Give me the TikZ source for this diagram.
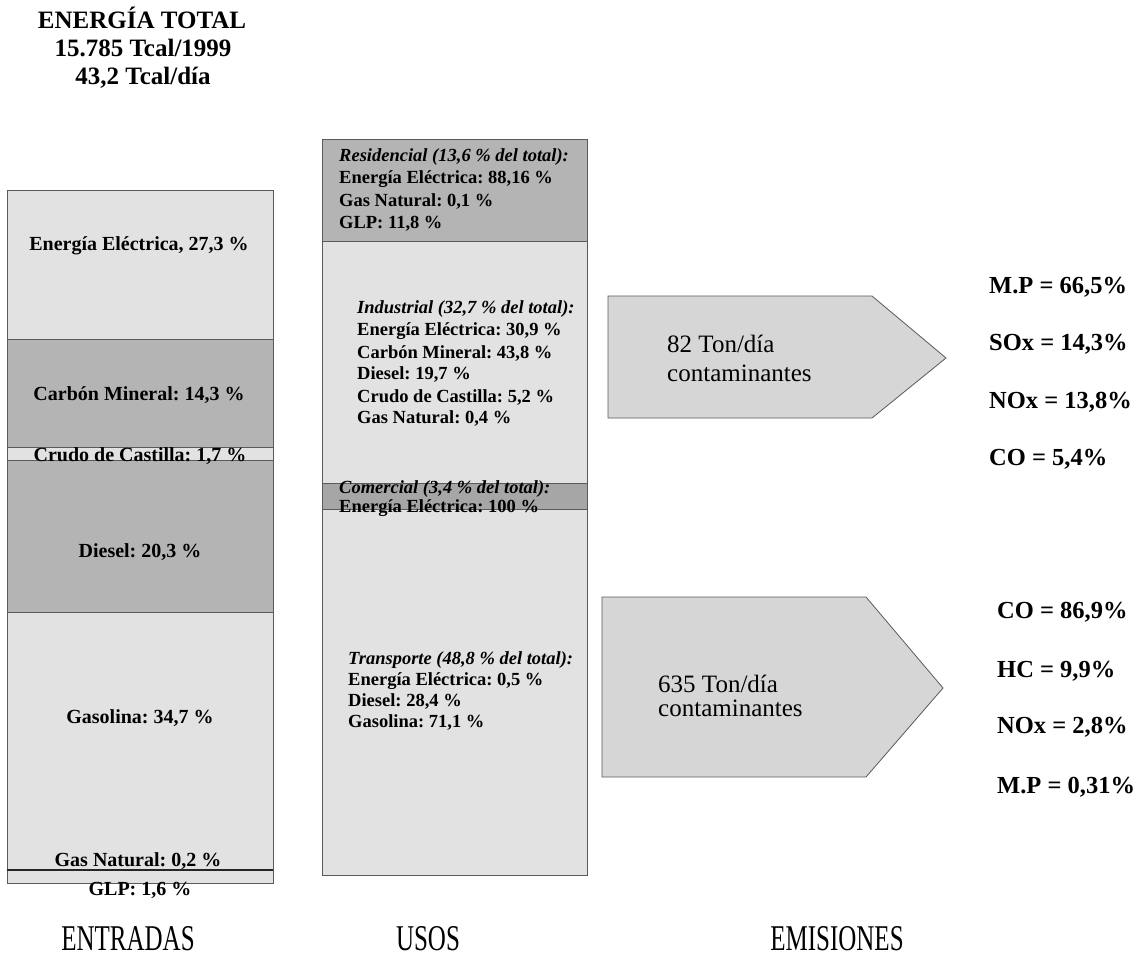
\documentclass[tikz,border=0pt]{standalone}
\usepackage{fontspec}
\setmainfont{Liberation Serif}
\definecolor{lightfill}{HTML}{E2E2E2}
\definecolor{darkfill}{HTML}{B4B4B4}
\definecolor{darkerfill}{HTML}{A6A6A6}
\definecolor{arrowfill}{HTML}{D6D6D6}
\definecolor{edge}{HTML}{5A5A5A}
\tikzset{
  band/.style={draw=edge, line width=0.8pt},
  lbl/.style={font=\bfseries\fontsize{20}{24}\selectfont, anchor=base, inner sep=0pt},
  mid/.style={font=\bfseries\fontsize{18.5}{22}\selectfont, anchor=base west, inner sep=0pt},
  midh/.style={font=\bfseries\itshape\fontsize{18.5}{22}\selectfont, anchor=base west, inner sep=0pt},
  ttl/.style={font=\bfseries\fontsize{25}{28}\selectfont, anchor=base, inner sep=0pt},
  emis/.style={font=\bfseries\fontsize{24.5}{28}\selectfont, anchor=base west, inner sep=0pt},
  arrtxt/.style={font=\fontsize{25}{28}\selectfont, anchor=base west, inner sep=0pt},
  foot/.style={font=\fontsize{25}{28}\selectfont, anchor=base, inner sep=0pt, yscale=1.45},
}
\begin{document}
\frenchspacing
\begin{tikzpicture}[x=1pt,y=-1pt]
\useasboundingbox (0,0) rectangle (1148,963);
% title
\node[ttl] (t1) at (142,29) {ENERGÍA TOTAL};
\node[ttl] (t2) at (143,57) {15.785 Tcal/1999};
\node[ttl] (t3) at (143,85) {43,2 Tcal/día};
% left column
\path[band, fill=lightfill] (7,190) rectangle (273,339);
\path[band, fill=darkfill] (7,339) rectangle (273,447);
\path[band, fill=lightfill] (7,447) rectangle (273,460);
\path[band, fill=darkfill] (7,460) rectangle (273,612);
\path[band, fill=lightfill] (7,612) rectangle (273,870);
\path[band, fill=lightfill] (7,870) rectangle (273,883);
\draw[line width=2.6pt, black!85] (7,870) -- (273,870);
\node[lbl] (ee) at (139,250) {Energía Eléctrica, 27,3 \%};
\node[lbl] (cm) at (139,400) {Carbón Mineral: 14,3 \%};
\node[lbl] (cc) at (140,461) {Crudo de Castilla: 1,7 \%};
\node[lbl] (di) at (140,557) {Diesel: 20,3 \%};
\node[lbl] (ga) at (140,723) {Gasolina: 34,7 \%};
\node[lbl] (gn) at (138,866) {Gas Natural: 0,2 \%};
\node[lbl] (gl) at (140,895) {GLP: 1,6 \%};
% middle column
\path[band, fill=darkfill] (322,139) rectangle (587,241);
\path[band, fill=lightfill] (322,241) rectangle (587,483);
\path[band, fill=darkerfill] (322,483) rectangle (587,509);
\path[band, fill=lightfill] (322,509) rectangle (587,875);
\node[midh] (r0) at (339,161) {Residencial (13,6 \% del total):};
\node[mid] (r1) at (339,183) {Energía Eléctrica: 88,16 \%};
\node[mid] (r2) at (339,206) {Gas Natural: 0,1 \%};
\node[mid] (r3) at (339,228) {GLP: 11,8 \%};
\node[midh] (i0) at (357,313) {Industrial (32,7 \% del total):};
\node[mid] (i1) at (357,335) {Energía Eléctrica: 30,9 \%};
\node[mid] (i2) at (357,358) {Carbón Mineral: 43,8 \%};
\node[mid] (i3) at (357,379) {Diesel: 19,7 \%};
\node[mid] (i4) at (357,402) {Crudo de Castilla: 5,2 \%};
\node[mid] (i5) at (357,423) {Gas Natural: 0,4 \%};
\node[midh] (c0) at (339,493) {Comercial (3,4 \% del total):};
\node[mid] (c1) at (339,512) {Energía Eléctrica: 100 \%};
\node[midh] (p0) at (348,664) {Transporte (48,8 \% del total):};
\node[mid] (p1) at (348,685) {Energía Eléctrica: 0,5 \%};
\node[mid] (p2) at (348,706) {Diesel: 28,4 \%};
\node[mid] (p3) at (348,727) {Gasolina: 71,1 \%};
% arrows
\path[band, fill=arrowfill] (608,296) -- (872,296) -- (946,358) -- (872,418) -- (608,418) -- cycle;
\path[band, fill=arrowfill] (602,597) -- (866,597) -- (943,688) -- (866,777) -- (602,777) -- cycle;
\node[arrtxt] (a1) at (667,352) {82 Ton/día};
\node[arrtxt] (a2) at (667,381) {contaminantes};
\node[arrtxt] (b1) at (658,692) {635 Ton/día};
\node[arrtxt] (b2) at (658,716) {contaminantes};
% emissions
\node[emis] (e1) at (989,293) {M.P = 66,5\%};
\node[emis] (e2) at (989,350) {SOx = 14,3\%};
\node[emis] (e3) at (989,408) {NOx = 13,8\%};
\node[emis] (e4) at (989,465) {CO = 5,4\%};
\node[emis] (f1) at (997,618) {CO = 86,9\%};
\node[emis] (f2) at (997,677) {HC = 9,9\%};
\node[emis] (f3) at (997,733) {NOx = 2,8\%};
\node[emis] (f4) at (997,793) {M.P = 0,31\%};
% footers
\node[foot] (fe) at (128,950) {ENTRADAS};
\node[foot] (fu) at (428,950) {USOS};
\node[foot] (fm) at (837,950) {EMISIONES};
\end{tikzpicture}
\end{document}
